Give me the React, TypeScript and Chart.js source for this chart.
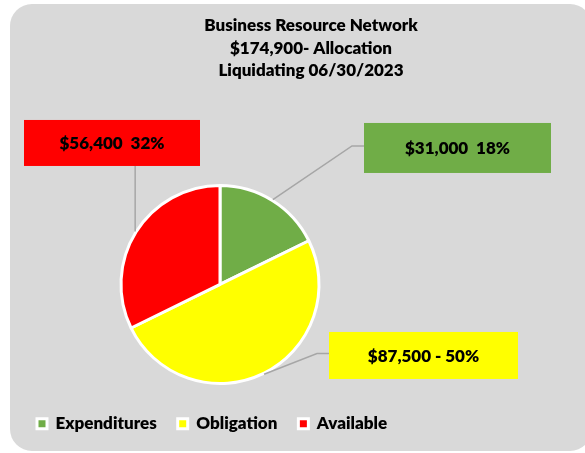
import { useEffect, useRef } from 'react';
import { Chart, registerables, layouts } from 'chart.js';

Chart.register(...registerables);

// ---- data ----
const categories = ['Expenditures', 'Obligation', 'Available'];
const amounts = [31000, 87500, 56400];
const sliceColors = ['#70ad47', '#ffff00', '#ff0000'];
const labelSeparators = ['  ', ' - ', '  '];
const titleLines = ['Business Resource Network', '$174,900- Allocation', 'Liquidating 06/30/2023'];

// ---- layout / style ----
const FONT = 'Lato, "Open Sans", sans-serif';
const WEIGHT = 800;
const labelBoxes = [
  { dx: 237.5, dy: -136.5, w: 187, h: 50 },
  { dx: 203.5, dy: 71, w: 189, h: 47 },
  { dx: -108, dy: -141.5, w: 176, h: 46 },
];

const total = amounts.reduce((a, b) => a + b, 0);
const labelTexts = amounts.map(
  (v, i) => '$' + v.toLocaleString('en-US') + labelSeparators[i] + Math.round((v / total) * 100) + '%'
);

const backgroundPlugin = {
  id: 'bgPanel',
  beforeDraw(chart: any) {
    const ctx = chart.ctx;
    ctx.save();
    ctx.fillStyle = '#ffffff';
    ctx.fillRect(0, 0, chart.width, chart.height);
    const x = 10, y = 4, w = 582, h = 447, r = 22;
    ctx.beginPath();
    ctx.moveTo(x + r, y);
    ctx.lineTo(x + w - r, y);
    ctx.arcTo(x + w, y, x + w, y + r, r);
    ctx.lineTo(x + w, y + h - r);
    ctx.arcTo(x + w, y + h, x + w - r, y + h, r);
    ctx.lineTo(x + r, y + h);
    ctx.arcTo(x, y + h, x, y + h - r, r);
    ctx.lineTo(x, y + r);
    ctx.arcTo(x, y, x + r, y, r);
    ctx.closePath();
    ctx.fillStyle = '#d9d9d9';
    ctx.fill();
    ctx.restore();
  },
};

const spacerPlugin = {
  id: 'rightSpacer',
  beforeInit(chart: any) {
    const box: any = {
      position: 'right',
      weight: 0,
      fullSize: false,
      options: { display: true },
      width: 0,
      height: 0,
      top: 0,
      left: 0,
      right: 0,
      bottom: 0,
      isHorizontal() {
        return false;
      },
      update(_maxW: number, maxH: number) {
        this.width = 182;
        this.height = maxH;
      },
      draw() {},
    };
    layouts.addBox(chart, box);
  },
};

const labelPlugin = {
  id: 'calloutLabels',
  afterDatasetsDraw(chart: any) {
    const ctx = chart.ctx;
    const arcs = chart.getDatasetMeta(0).data;
    ctx.save();
    arcs.forEach((arc: any, i: number) => {
      const { x, y, startAngle, endAngle, outerRadius } = arc.getProps(
        ['x', 'y', 'startAngle', 'endAngle', 'outerRadius'],
        true
      );
      const mid = (startAngle + endAngle) / 2;
      const ax = x + Math.cos(mid) * (outerRadius + 1);
      const ay = y + Math.sin(mid) * (outerRadius + 1);
      const b = labelBoxes[i];
      const cx = x + b.dx;
      const cy = y + b.dy;
      const left = cx - b.w / 2;
      const right = cx + b.w / 2;
      const top = cy - b.h / 2;
      const bottom = cy + b.h / 2;

      ctx.strokeStyle = '#a6a6a6';
      ctx.lineWidth = 1.5;
      ctx.beginPath();
      ctx.moveTo(ax, ay);
      if (ax >= left && ax <= right) {
        ctx.lineTo(ax, ay < top ? top : bottom);
      } else {
        ctx.lineTo(left - 12, cy - 2);
        ctx.lineTo(left, cy - 2);
      }
      ctx.stroke();

      ctx.fillStyle = sliceColors[i];
      ctx.fillRect(left, top, b.w, b.h);

      ctx.fillStyle = '#000000';
      ctx.font = `${WEIGHT} 17px ${FONT}`;
      ctx.textAlign = 'center';
      ctx.textBaseline = 'middle';
      ctx.fillText(labelTexts[i], cx, cy + 1);
    });
    ctx.restore();
  },
};

export default function App() {
  const canvasRef = useRef<HTMLCanvasElement | null>(null);

  useEffect(() => {
    if (!canvasRef.current) return;
    const chart = new Chart(canvasRef.current, {
      type: 'pie',
      data: {
        labels: categories,
        datasets: [
          {
            data: amounts,
            backgroundColor: sliceColors,
            borderColor: '#ffffff',
            borderWidth: 3,
            radius: 99,
          } as any,
        ],
      },
      options: {
        animation: false,
        responsive: false,
        devicePixelRatio: 1,
        layout: { padding: { left: 16, right: -21, top: 0, bottom: 10.8 } },
        plugins: {
          tooltip: { enabled: false },
          title: {
            display: true,
            text: titleLines,
            color: '#000000',
            font: { family: FONT, size: 17, weight: WEIGHT, lineHeight: 1.34 },
            padding: { top: 14, bottom: 92.4 },
          },
          legend: {
            position: 'bottom',
            align: 'start',
            labels: {
              color: '#000000',
              font: { family: FONT, size: 17, weight: WEIGHT },
              boxWidth: 10,
              boxHeight: 10,
              padding: 21,
            },
          },
        },
      } as any,
      plugins: [backgroundPlugin, spacerPlugin, labelPlugin],
    });
    return () => chart.destroy();
  }, []);

  return (
    <div style={{ position: 'absolute', left: 0, top: 0, width: 585, height: 453 }}>
      <canvas ref={canvasRef} width={585} height={453} />
    </div>
  );
}
